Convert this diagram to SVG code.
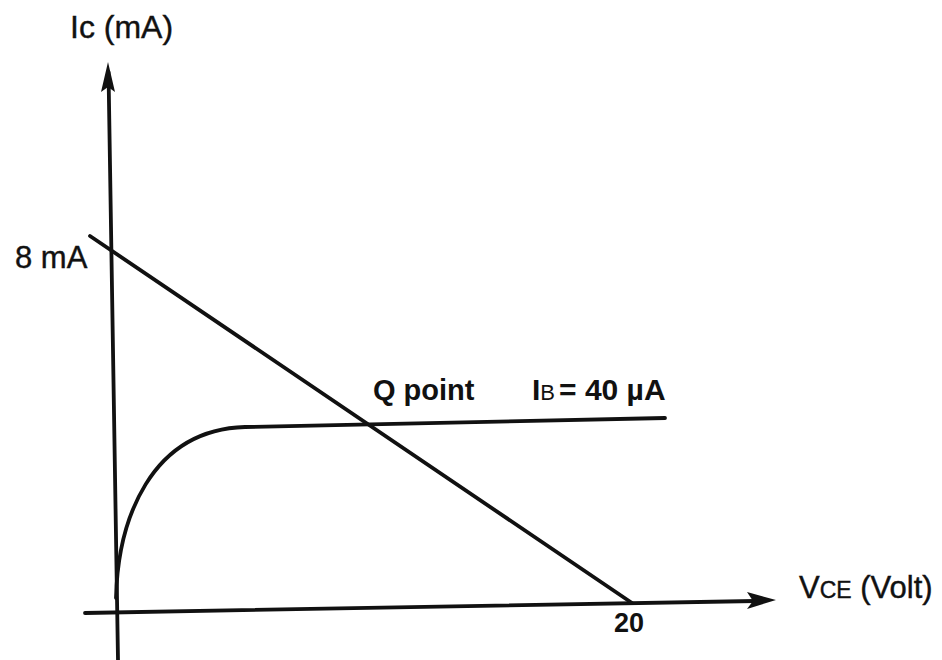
<svg xmlns="http://www.w3.org/2000/svg" width="942" height="660" viewBox="0 0 942 660">
<style>
.ln{stroke:#111;stroke-width:3.8;fill:none;stroke-linecap:round}
.t{font-family:"Liberation Sans",Arial,sans-serif;fill:#111}
.b{font-weight:bold}
</style>
<rect width="942" height="660" fill="#fff"/>
<g id="connectors">
<path class="ln" d="M118,660 L108.5,72"/>
<path d="M108,62 L115,92 L108,87 L101,92 Z" fill="#111"/>
<path class="ln" d="M85,613 L755,601"/>
<path d="M776,600 L747,592 L753,601 L747,609 Z" fill="#111"/>
<path class="ln" d="M90,236 L632,603"/>
<path class="ln" d="M116,598 C118,520 150,430 245,427 L665,418"/>
</g>
<g id="label-ic"><text class="t" x="70" y="38" font-size="32" stroke="#111" stroke-width="0.4">Ic (mA)</text></g>
<g id="label-8ma"><text class="t" x="15" y="268" font-size="31" stroke="#111" stroke-width="0.4">8 mA</text></g>
<g id="label-q"><text class="t b" x="373" y="400" font-size="29">Q point</text></g>
<g id="label-ib"><text class="t b" x="532" y="400" font-size="30">I<tspan font-size="22" font-weight="normal">B</tspan><tspan dx="4">= 40 µA</tspan></text></g>
<g id="label-20"><text class="t b" x="614" y="632" font-size="27">20</text></g>
<g id="label-vce"><text class="t" x="799" y="598" font-size="31" stroke="#111" stroke-width="0.4">V<tspan font-size="23">CE</tspan> (Volt)</text></g>
</svg>
